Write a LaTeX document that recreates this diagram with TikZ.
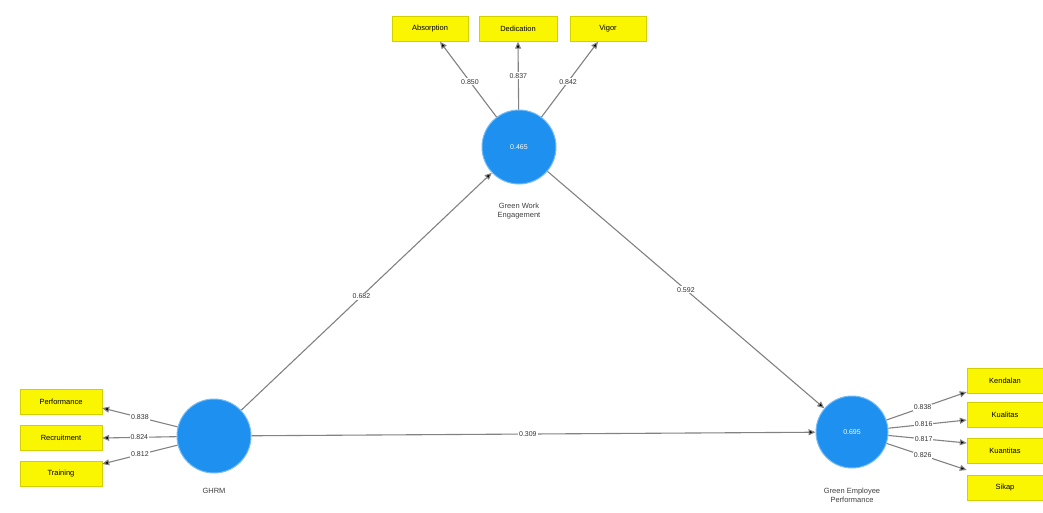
\documentclass[tikz,border=0pt]{standalone}
\usepackage{fontspec}
\setmainfont{Liberation Sans}
\usetikzlibrary{arrows.meta}
\definecolor{lv}{RGB}{30,144,240}
\definecolor{ind}{RGB}{250,245,0}
\definecolor{ln}{RGB}{130,130,130}
\begin{document}
\begin{tikzpicture}[x=1pt,y=-1pt,
  latent/.style={circle,fill=lv,draw=lv!60!white,line width=1pt,minimum size=74pt,inner sep=0pt,text=white,font=\fontsize{7}{8}\selectfont},
  indic/.style={rectangle,fill=ind,draw=ind!85!black,line width=0.4pt,minimum width=78pt,minimum height=25pt,inner sep=1pt,font=\fontsize{7.5}{9}\selectfont},
  lvcap/.style={font=\fontsize{7.5}{9}\selectfont,text=black!75,align=center},
  conn/.style={draw=ln,line width=1.1pt,-{Triangle[length=7pt,width=6pt,fill=black]}},
  wlab/.style={fill=white,inner sep=1pt,font=\fontsize{7}{8}\selectfont,text=black!80}]
\useasboundingbox (0,0) rectangle (1043,513);
\fill[white] (0,0) rectangle (1043,513);
% latent variables
\node[latent] (gwe) at (519,147) {0.465};
\node[latent] (ghrm) at (214,436) {};
\node[latent,minimum size=72pt] (gep) at (852,432) {0.695};
\node[lvcap] (gwel) at (519,211) {Green Work\\Engagement};
\node[lvcap] (ghrml) at (214,491) {GHRM};
\node[lvcap] (gepl) at (852,495) {Green Employee\\Performance};
% indicators
\node[indic,minimum width=76pt] (abs) at (430,29) {Absorption};
\node[indic] (ded) at (518,29) {Dedication};
\node[indic,minimum width=76pt] (vig) at (608,29) {Vigor};
\node[indic,minimum width=82pt] (perf) at (61,402) {Performance};
\node[indic,minimum width=82pt] (rec) at (61,438) {Recruitment};
\node[indic,minimum width=82pt] (tra) at (61,474) {Training};
\node[indic,minimum width=76pt] (ken) at (1005,381) {Kendalan};
\node[indic,minimum width=76pt] (kua) at (1005,415) {Kualitas};
\node[indic,minimum width=76pt] (kuan) at (1005,451) {Kuantitas};
\node[indic,minimum width=76pt] (sik) at (1005,488) {Sikap};
% arrow end points
\coordinate (absE) at ([xshift=10pt]abs.south);
\coordinate (vigE) at ([xshift=-10pt]vig.south);
\coordinate (perfE) at ([yshift=-6pt]perf.east);
\coordinate (traE) at ([yshift=10pt]tra.east);
\coordinate (kenE) at ([yshift=-11pt]ken.west);
\coordinate (kuaE) at ([yshift=-5pt]kua.west);
\coordinate (kuanE) at ([yshift=8pt]kuan.west);
\coordinate (sikE) at ([yshift=18pt]sik.west);
% structural paths
\draw[conn] (ghrm) -- node[wlab,pos=0.48] {0.682} (gwe);
\draw[conn] (gwe) -- node[wlab,pos=0.5] {0.592} (gep);
\draw[conn] (ghrm) -- node[wlab,pos=0.49] {0.309} (gep);
% outer loadings GWE
\draw[conn] (gwe) -- node[wlab,pos=0.47] {0.850} (absE);
\draw[conn] (gwe) -- node[wlab,pos=0.5] {0.837} (ded.south);
\draw[conn] (gwe) -- node[wlab,pos=0.47] {0.842} (vigE);
% GHRM loadings
\draw[conn] (ghrm) -- node[wlab,pos=0.5] {0.838} (perfE);
\draw[conn] (ghrm) -- node[wlab,pos=0.5] {0.824} (rec.east);
\draw[conn] (ghrm) -- node[wlab,pos=0.5] {0.812} (traE);
% GEP loadings
\draw[conn] (gep) -- node[wlab,pos=0.45] {0.838} (kenE);
\draw[conn] (gep) -- node[wlab,pos=0.45] {0.816} (kuaE);
\draw[conn] (gep) -- node[wlab,pos=0.45] {0.817} (kuanE);
\draw[conn] (gep) -- node[wlab,pos=0.45] {0.826} (sikE);
\end{tikzpicture}
\end{document}
